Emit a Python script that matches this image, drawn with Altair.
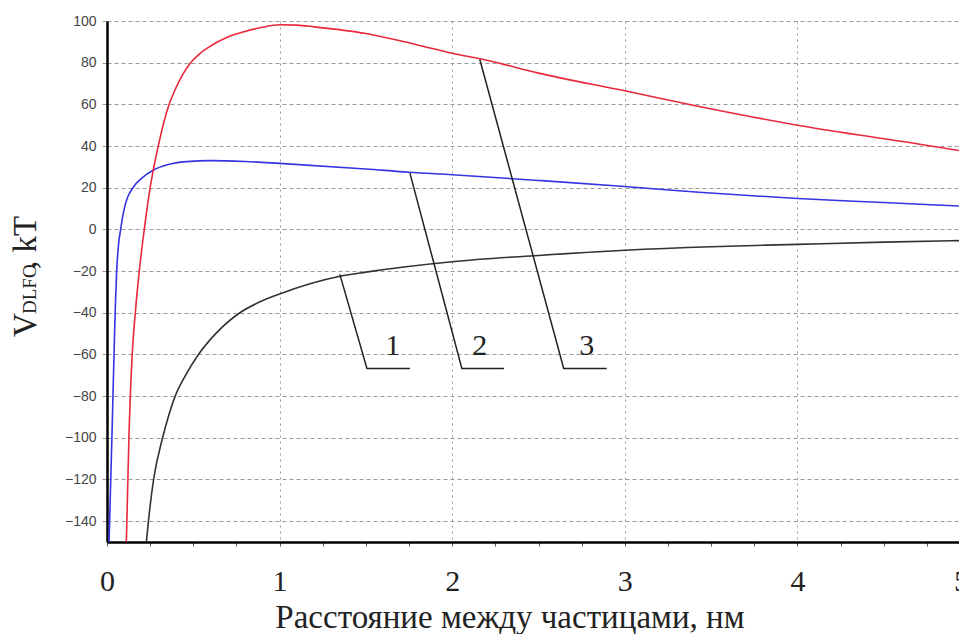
import altair as alt
import pandas as pd

# ---- data ----
# curve 1 (black)
x_black = [0.228, 0.24, 0.27, 0.322, 0.355, 0.395, 0.455, 0.53, 0.63, 0.77, 0.88, 1.0, 1.35, 1.5, 2.0, 2.5,
           3.0, 3.5, 4.0, 4.5, 5.0]
y_black = [-150, -140, -120, -100, -90, -80, -70, -60, -50, -40, -35, -31, -22.5, -20.5, -15.5, -12.5,
           -10, -8.3, -7.2, -6.1, -5.3]
# curve 2 (blue)
x_blue = [0.012, 0.02, 0.03, 0.04, 0.048, 0.056, 0.066, 0.079, 0.1, 0.12, 0.15, 0.2, 0.27, 0.35, 0.46, 0.6,
          0.8, 1.0, 1.5, 1.75, 2.0, 2.5, 3.0, 3.43, 4.0, 4.5, 5.0]
y_blue = [-150, -125, -95, -62, -38, -20, -8, 0, 10, 15.5, 20, 24.5, 28.5, 31, 32.5, 33,
          32.6, 31.7, 29, 27.4, 26.2, 23.5, 20.6, 17.8, 14.8, 12.9, 11]
# curve 3 (red)
x_red = [0.112, 0.127, 0.146, 0.164, 0.187, 0.216, 0.25, 0.297, 0.36, 0.40, 0.44, 0.48, 0.54, 0.6, 0.7, 0.8,
         0.9, 1.0, 1.1, 1.2, 1.5, 1.8, 2.0, 2.2, 2.5, 3.0, 3.43, 4.0, 4.7, 5.0]
y_red = [-150, -100, -60, -40, -20, 0, 20, 40, 60, 68, 74.5, 79.5, 84.5, 88, 92.3, 95,
         97, 98.2, 98, 97.2, 94, 88.5, 84.5, 81.2, 75, 66.5, 59, 50, 41, 37]

# leader lines for the curve numbers
leader_id = ["1", "1", "1", "2", "2", "2", "3", "3", "3"]
leader_x = [1.349, 1.506, 1.755, 1.755, 2.056, 2.30, 2.16, 2.646, 2.895]
leader_y = [-21.6, -66.7, -66.7, 27.0, -66.7, -66.7, 81.5, -66.7, -66.7]

label_text = ["1", "2", "3"]
label_x = [1.656, 2.16, 2.78]
label_y = [-60.5, -60.5, -60.5]

x_tick_values = [0, 0.25, 0.5, 0.75, 1, 1.25, 1.5, 1.75, 2, 2.25, 2.5, 2.75, 3,
                 3.25, 3.5, 3.75, 4, 4.25, 4.5, 4.75, 5]
y_tick_values = [-140, -120, -100, -80, -60, -40, -20, 0, 20, 40, 60, 80, 100]

x_title = "Расстояние между частицами, нм"

# ---- tables ----
rows = []
for name, xs, ys in [("1", x_black, y_black), ("2", x_blue, y_blue), ("3", x_red, y_red)]:
    for i, (a, b) in enumerate(zip(xs, ys)):
        rows.append({"curve": name, "i": i, "x": a, "y": b})
curves = pd.DataFrame(rows)

leaders = pd.DataFrame({"id": leader_id, "i": list(range(len(leader_id))), "x": leader_x, "y": leader_y})
labels = pd.DataFrame({"t": label_text, "x": label_x, "y": label_y})

SERIF = "Liberation Serif"

xscale = alt.Scale(domain=[0, 5], range=[0, 863], nice=False, zero=False)
yscale = alt.Scale(domain=[-150, 100], nice=False, zero=False)

xaxis = alt.Axis(
    values=x_tick_values,
    labelExpr="datum.value % 1 == 0 ? format(datum.value, 'd') : ''",
    labelOverlap=False, labelFlush=False,
    labelOffset={"condition": {"test": "datum.value == 5", "value": -9}, "value": 0},
    labelFont=SERIF, labelFontSize=30, labelColor="#222",
    labelPadding=20, tickSize=4, tickColor="#555",
    domainColor="#000", domainWidth=2.5,
    grid=True, gridColor="#999", gridDash=[2, 4], gridWidth=1,
    gridOpacity={"condition": {"test": "datum.value % 1 != 0 || datum.value == 0", "value": 0}, "value": 1},
    title=None,
)
yaxis = alt.Axis(
    values=y_tick_values,
    labelFont="Liberation Sans", labelFontSize=14, labelColor="#444",
    labelPadding=6, tickSize=5, tickColor="#999",
    domainColor="#000", domainWidth=2.5,
    grid=True, gridColor="#999", gridDash=[4, 3], gridWidth=1,
    title=None,
)

X = alt.X("x:Q", scale=xscale, axis=xaxis)
Y = alt.Y("y:Q", scale=yscale, axis=yaxis)

lines = alt.Chart(curves).mark_line(clip=True, interpolate="monotone", strokeWidth=1.6).encode(
    x=X, y=Y,
    color=alt.Color("curve:N", scale=alt.Scale(domain=["1", "2", "3"],
                                               range=["#333333", "#3434e0", "#e8283c"]), legend=None),
    order="i:Q",
)

lead = alt.Chart(leaders).mark_line(color="#222", strokeWidth=1.5).encode(
    x=alt.X("x:Q", scale=xscale), y=alt.Y("y:Q", scale=yscale), detail="id:N", order="i:Q"
)

nums = alt.Chart(labels).mark_text(font=SERIF, fontSize=30, color="#222",
                                   align="center", baseline="alphabetic").encode(
    x=alt.X("x:Q", scale=xscale), y=alt.Y("y:Q", scale=yscale), text="t:N"
)

one = pd.DataFrame({"a": [0]})
ytitle_v = alt.Chart(one).mark_text(text="V", font=SERIF, fontSize=33, angle=270,
                                    align="left", baseline="alphabetic", color="#222").encode(
    x=alt.value(-71), y=alt.value(316))
ytitle_sub = alt.Chart(one).mark_text(text="DLFO", font=SERIF, fontSize=19, angle=270,
                                      align="left", baseline="alphabetic", color="#222").encode(
    x=alt.value(-71), y=alt.value(293))
ytitle_rest = alt.Chart(one).mark_text(text=", kT", font=SERIF, fontSize=33, angle=270,
                                       align="left", baseline="alphabetic", color="#222").encode(
    x=alt.value(-71), y=alt.value(248))
xtitle = alt.Chart(one).mark_text(text=x_title, font=SERIF, fontSize=33,
                                  align="center", baseline="alphabetic", color="#222").encode(
    x=alt.value(403), y=alt.value(607))

chart = alt.layer(lines, lead, nums, ytitle_v, ytitle_sub, ytitle_rest, xtitle).properties(
    width=852, height=521,
    autosize=alt.AutoSizeParams(type="none"),
    padding={"left": 99, "top": 13, "right": 0, "bottom": 92},
    background="white",
).configure_view(stroke=None)

chart.save("out.html", embed_options={"renderer": "svg", "actions": False})
